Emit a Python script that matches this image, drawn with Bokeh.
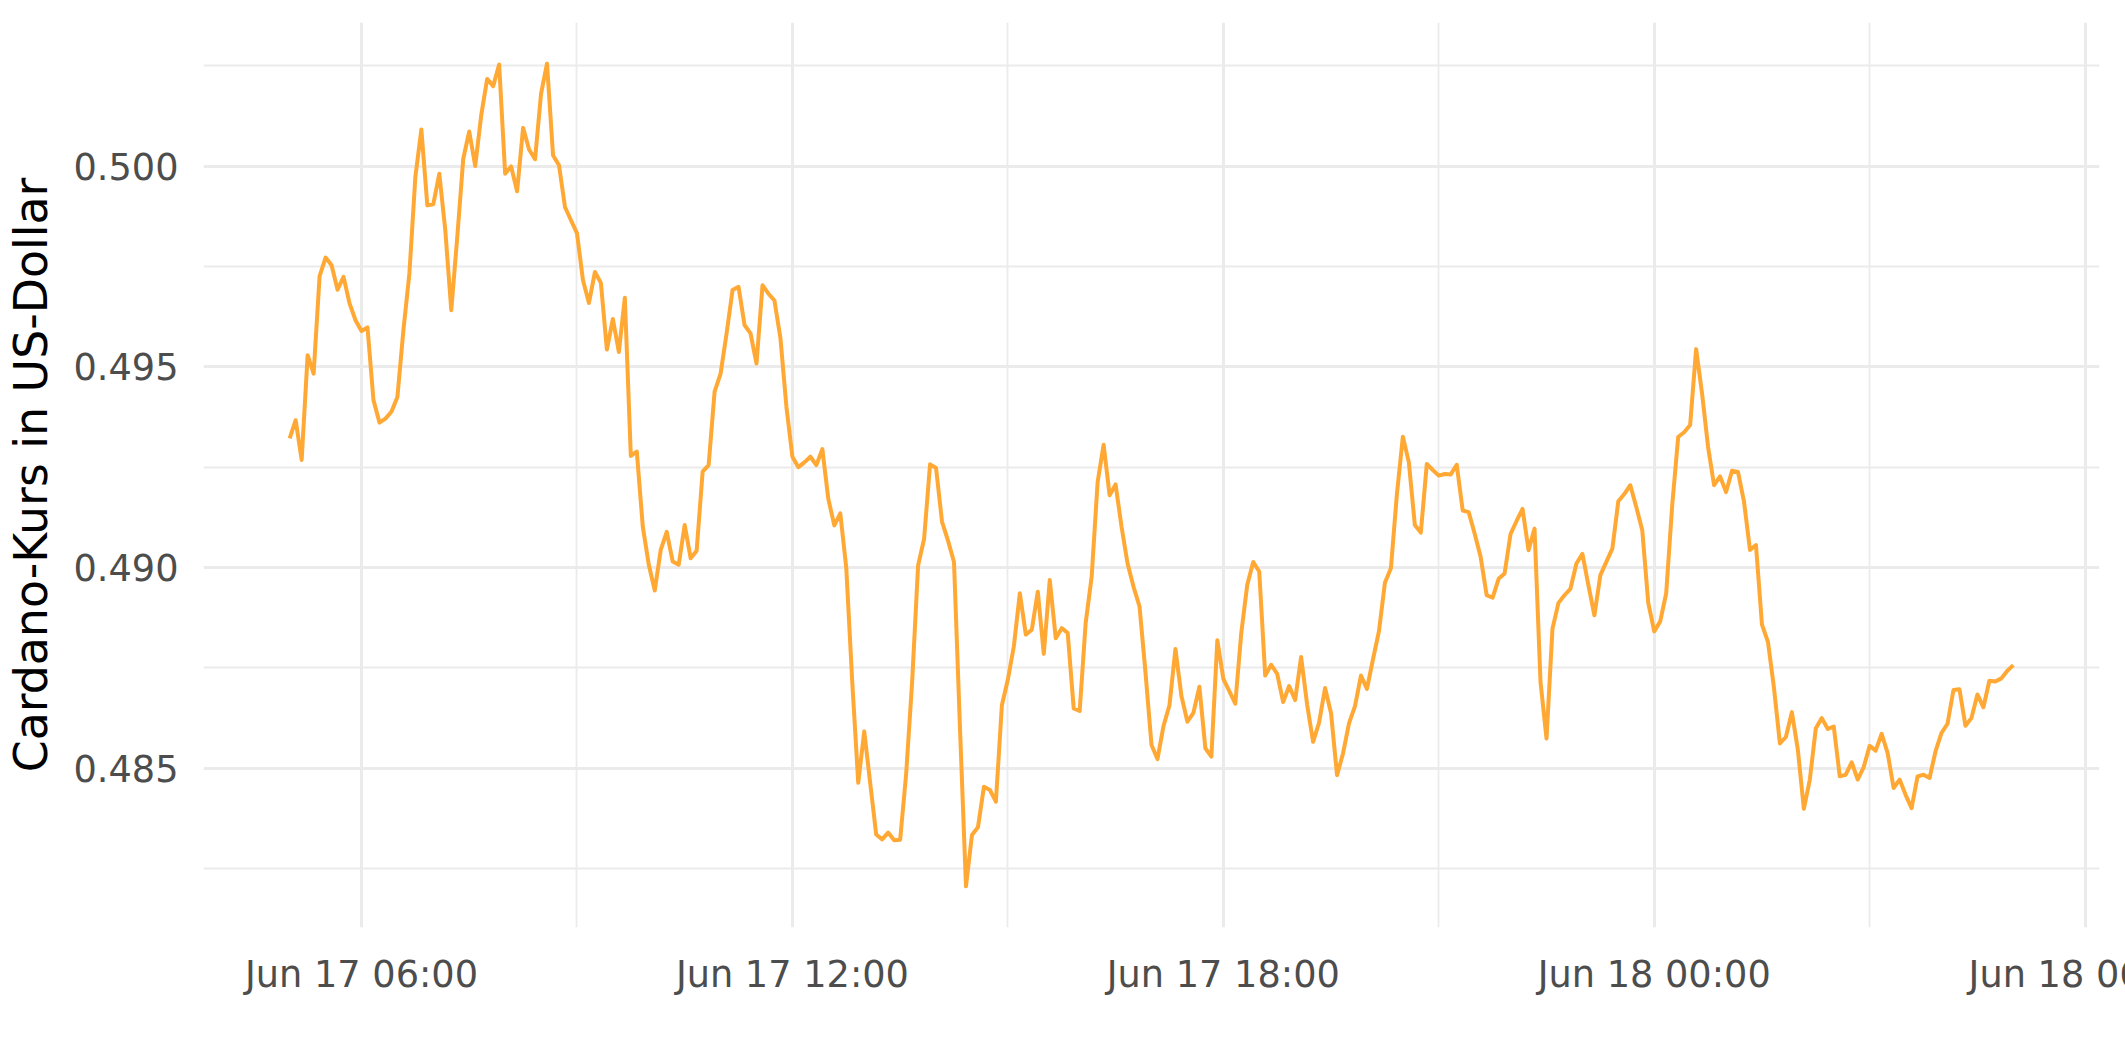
import pandas as pd
from bokeh.plotting import figure
from bokeh.models import FixedTicker, Range1d, ColumnDataSource
from bokeh.embed import file_html
from bokeh.resources import INLINE

# Cardano price, 5-minute steps from 2022-06-17 05:00 to 2022-06-18 05:00
start_time = "2022-06-17 05:00"
price = [
    0.49322, 0.49367, 0.49268, 0.49529, 0.49483, 0.49726, 0.49772, 0.49753, 0.49692, 0.49724,
    0.49658, 0.49616, 0.49589, 0.49598, 0.49417, 0.49361, 0.49371, 0.49388, 0.49425, 0.49591,
    0.49732, 0.49973, 0.50091, 0.49902, 0.49905, 0.49981, 0.49840, 0.49641, 0.49823, 0.50018,
    0.50086, 0.50000, 0.50126, 0.50217, 0.50199, 0.50253, 0.49981, 0.49999, 0.49937, 0.50095,
    0.50041, 0.50017, 0.50180, 0.50255, 0.50027, 0.50002, 0.49898, 0.49865, 0.49833, 0.49716,
    0.49659, 0.49736, 0.49709, 0.49543, 0.49619, 0.49537, 0.49672, 0.49278, 0.49289, 0.49102,
    0.49007, 0.48943, 0.49044, 0.49089, 0.49015, 0.49007, 0.49106, 0.49023, 0.49042, 0.49239,
    0.49255, 0.49438, 0.49483, 0.49583, 0.49691, 0.49699, 0.49604, 0.49583, 0.49508, 0.49703,
    0.49682, 0.49665, 0.49571, 0.49400, 0.49276, 0.49250, 0.49262, 0.49276, 0.49255, 0.49295,
    0.49171, 0.49105, 0.49135, 0.48999, 0.48714, 0.48464, 0.48592, 0.48463, 0.48335, 0.48323,
    0.48340, 0.48321, 0.48322, 0.48485, 0.48714, 0.49005, 0.49071, 0.49257, 0.49248, 0.49114,
    0.49067, 0.49014, 0.48600, 0.48206, 0.48334, 0.48353, 0.48454, 0.48446, 0.48417, 0.48657,
    0.48721, 0.48804, 0.48936, 0.48833, 0.48845, 0.48940, 0.48785, 0.48969, 0.48824, 0.48849,
    0.48837, 0.48649, 0.48643, 0.48862, 0.48977, 0.49213, 0.49306, 0.49180, 0.49207, 0.49101,
    0.49010, 0.48952, 0.48903, 0.48738, 0.48558, 0.48523, 0.48605, 0.48657, 0.48797, 0.48680,
    0.48616, 0.48638, 0.48703, 0.48550, 0.48529, 0.48819, 0.48723, 0.48692, 0.48661, 0.48837,
    0.48957, 0.49014, 0.48990, 0.48731, 0.48758, 0.48735, 0.48665, 0.48705, 0.48670, 0.48777,
    0.48659, 0.48566, 0.48614, 0.48700, 0.48637, 0.48483, 0.48537, 0.48612, 0.48655, 0.48731,
    0.48698, 0.48771, 0.48841, 0.48962, 0.48998, 0.49182, 0.49326, 0.49262, 0.49106, 0.49087,
    0.49258, 0.49243, 0.49229, 0.49233, 0.49232, 0.49256, 0.49142, 0.49138, 0.49084, 0.49026,
    0.48931, 0.48925, 0.48972, 0.48985, 0.49084, 0.49116, 0.49146, 0.49043, 0.49097, 0.48715,
    0.48574, 0.48848, 0.48912, 0.48931, 0.48947, 0.49010, 0.49034, 0.48956, 0.48881, 0.48981,
    0.49014, 0.49047, 0.49165, 0.49183, 0.49205, 0.49151, 0.49093, 0.48912, 0.48841, 0.48866,
    0.48936, 0.49154, 0.49325, 0.49337, 0.49355, 0.49544, 0.49432, 0.49300, 0.49205, 0.49227,
    0.49188, 0.49241, 0.49238, 0.49164, 0.49044, 0.49056, 0.48858, 0.48815, 0.48701, 0.48562,
    0.48578, 0.48640, 0.48546, 0.48399, 0.48472, 0.48600, 0.48625, 0.48598, 0.48604, 0.48480,
    0.48484, 0.48515, 0.48472, 0.48503, 0.48556, 0.48544, 0.48586, 0.48538, 0.48451, 0.48472,
    0.48434, 0.48401, 0.48480, 0.48484, 0.48476, 0.48542, 0.48588, 0.48611, 0.48695, 0.48697,
    0.48606, 0.48625, 0.48684, 0.48652, 0.48718, 0.48716, 0.48724, 0.48743, 0.48757,
]

x_major = ["2022-06-17 06:00", "2022-06-17 12:00", "2022-06-17 18:00",
           "2022-06-18 00:00", "2022-06-18 06:00"]
x_labels = ["Jun 17 06:00", "Jun 17 12:00", "Jun 17 18:00", "Jun 18 00:00", "Jun 18 06:00"]
x_minor = ["2022-06-17 09:00", "2022-06-17 15:00", "2022-06-17 21:00", "2022-06-18 03:00"]
y_major = [0.485, 0.490, 0.495, 0.500]
y_labels = ["0.485", "0.490", "0.495", "0.500"]
y_minor = [0.4825, 0.4875, 0.4925, 0.4975, 0.5025]

y_title = "Cardano-Kurs in US-Dollar"


def to_ms(ts):
    return [t.value / 1e6 for t in pd.to_datetime(ts)]


times = pd.date_range(start_time, periods=len(price), freq="5min")
t_ms = to_ms(times)
source = ColumnDataSource(dict(t=t_ms, price=price))

tmin, tmax = min(t_ms), max(t_ms)
tpad = 0.05 * (tmax - tmin)
ymin, ymax = min(price), max(price)
ypad = 0.05 * (ymax - ymin)

FONT = "DejaVu Sans"
GRID = "#EBEBEB"

# the last tick label runs past the right edge of the window, as in the original
p = figure(width=2205, height=1046, output_backend="svg", toolbar_location=None,
           x_axis_type="datetime", title=None,
           x_range=Range1d(tmin - tpad, tmax + tpad),
           y_range=Range1d(ymin - ypad, ymax + ypad),
           min_border_left=203, min_border_right=106, min_border_top=22,
           min_border_bottom=119)

p.background_fill_color = "white"
p.border_fill_color = "white"
p.outline_line_color = None

xmaj = to_ms(x_major)
p.xaxis.ticker = FixedTicker(ticks=xmaj, minor_ticks=to_ms(x_minor))
p.xaxis.major_label_overrides = dict(zip(xmaj, x_labels))
p.yaxis.ticker = FixedTicker(ticks=y_major, minor_ticks=y_minor)
p.yaxis.major_label_overrides = dict(zip(y_major, y_labels))

for ax in (p.xaxis, p.yaxis):
    ax.axis_line_color = None
    ax.major_tick_line_color = None
    ax.minor_tick_line_color = None
    ax.major_tick_out = 0
    ax.major_tick_in = 0
    ax.major_label_text_font = FONT
    ax.major_label_text_font_size = "36.7px"
    ax.major_label_text_color = "#4D4D4D"
    ax.major_label_standoff = 21

p.yaxis.axis_label = y_title
p.yaxis.axis_label_text_font = FONT
p.yaxis.axis_label_text_font_size = "45.8px"
p.yaxis.axis_label_text_font_style = "normal"
p.yaxis.axis_label_text_color = "black"
p.yaxis.axis_label_standoff = 12

for g in (p.xgrid, p.ygrid):
    g.grid_line_color = GRID
    g.grid_line_width = 3
    g.minor_grid_line_color = GRID
    g.minor_grid_line_width = 1.8

p.line(x="t", y="price", source=source, line_color="#FFA834", line_width=4,
       line_join="round")

open("out.html", "w").write(file_html(p, INLINE))
